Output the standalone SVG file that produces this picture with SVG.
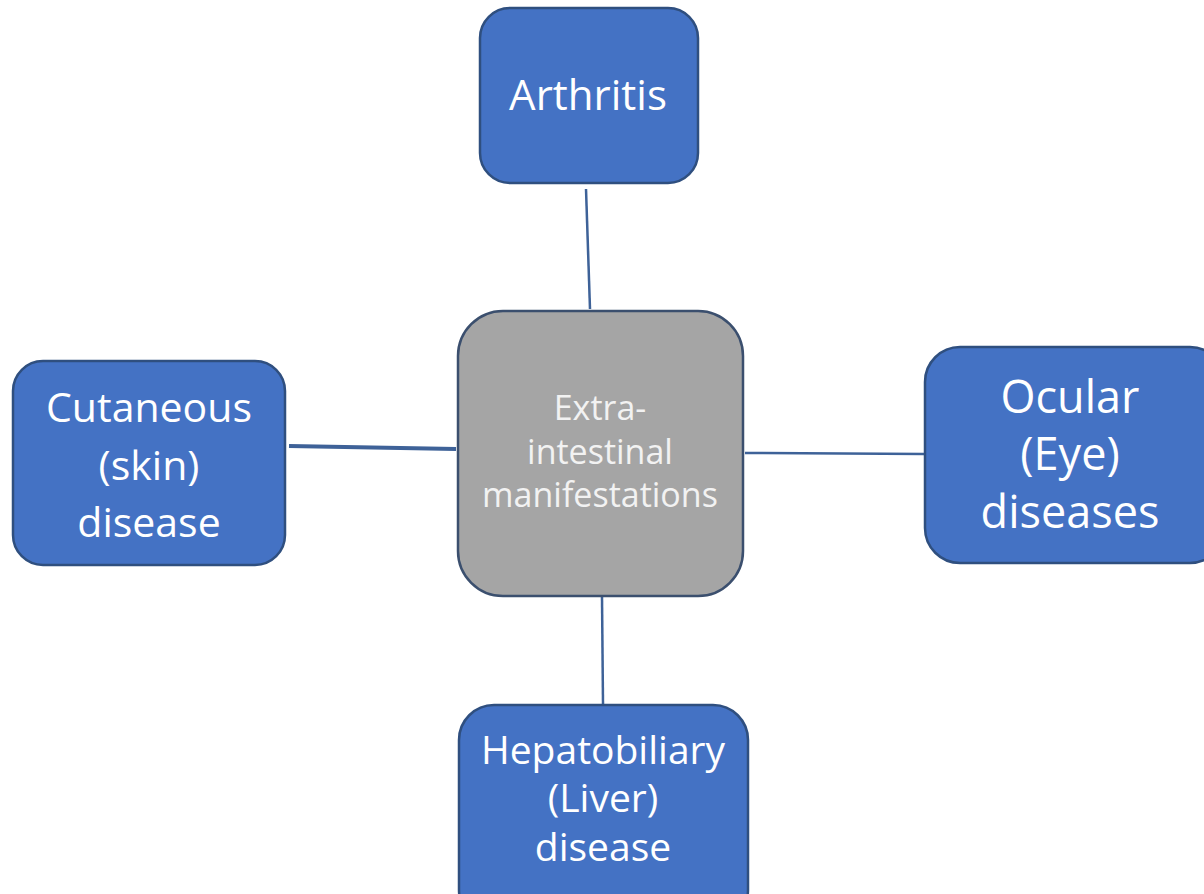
<svg xmlns="http://www.w3.org/2000/svg" width="1204" height="894" viewBox="0 0 1204 894">
<style>
.blue{fill:#4472C4;stroke:#2F4F7F;stroke-width:2.5}
.grey{fill:#A5A5A5;stroke:#3B4F6E;stroke-width:2.5}
.t{font-family:"Open Sans","Noto Sans","Liberation Sans",sans-serif;fill:#FFFFFF;text-anchor:middle}
.c{stroke:#3E6298;fill:none;stroke-width:2.5}
</style>
<rect width="1204" height="894" fill="#FFFFFF"/>
<g id="connectors">
<line class="c" x1="586" y1="189" x2="590" y2="309"/>
<line class="c" x1="289" y1="446" x2="456" y2="449" style="stroke-width:4"/>
<line class="c" x1="745" y1="453" x2="924" y2="454"/>
<line class="c" x1="602" y1="597" x2="603" y2="704"/>
</g>
<g id="arthritis">
<rect class="blue" x="480" y="8" width="218" height="175" rx="30"/>
<text class="t" x="588" y="110" font-size="42">Arthritis</text>
</g>
<g id="center">
<rect class="grey" x="458" y="311" width="285" height="285" rx="45"/>
<text class="t" x="600" y="420" font-size="34" style="fill:#F2F2F2">Extra-</text>
<text class="t" x="600" y="464" font-size="34" style="fill:#F2F2F2">intestinal</text>
<text class="t" x="600" y="507" font-size="34" style="fill:#F2F2F2">manifestations</text>
</g>
<g id="ocular">
<rect class="blue" x="925" y="347" width="300" height="216" rx="35"/>
<text class="t" x="1070" y="413" font-size="45">Ocular</text>
<text class="t" x="1070" y="470" font-size="45">(Eye)</text>
<text class="t" x="1070" y="528" font-size="45">diseases</text>
</g>
<g id="cutaneous">
<rect class="blue" x="13" y="361" width="272" height="204" rx="30"/>
<text class="t" x="149" y="422" font-size="41">Cutaneous</text>
<text class="t" x="149" y="480" font-size="41">(skin)</text>
<text class="t" x="149" y="537" font-size="41">disease</text>
</g>
<g id="hepatobiliary">
<rect class="blue" x="459" y="705" width="289" height="220" rx="35"/>
<text class="t" x="603" y="764" font-size="39">Hepatobiliary</text>
<text class="t" x="603" y="812" font-size="39">(Liver)</text>
<text class="t" x="603" y="861" font-size="39">disease</text>
</g>
</svg>
